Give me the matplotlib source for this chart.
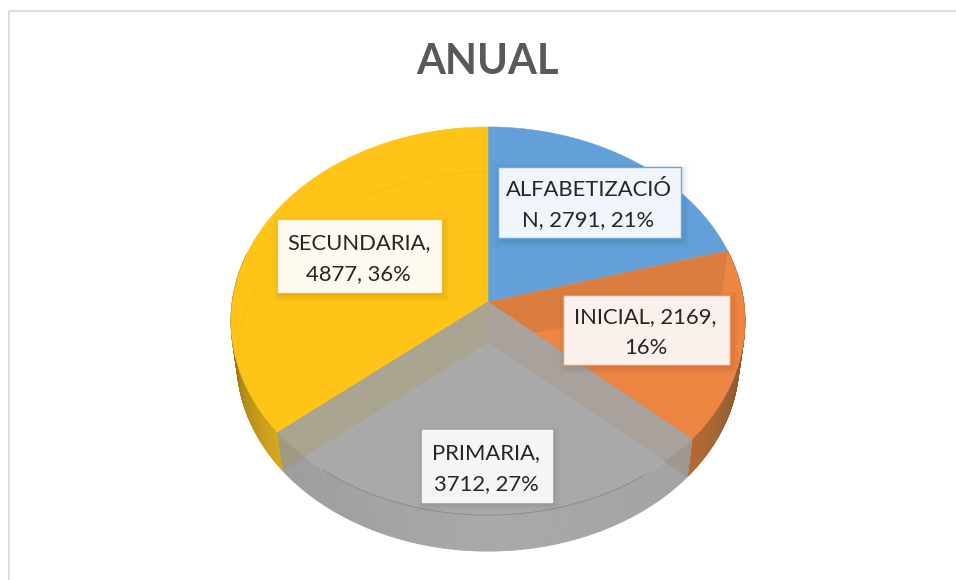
import numpy as np
import matplotlib
matplotlib.use('Agg')
import matplotlib.pyplot as plt
from matplotlib.colors import to_rgb
from matplotlib.patches import Polygon, Rectangle

# Values of the chart
names = ['ALFABETIZACIÓN', 'INICIAL', 'PRIMARIA', 'SECUNDARIA']
values = [2791, 2169, 3712, 4877]
title = 'ANUAL'

face_colors = ['#639fd8', '#ed8543', '#a9a9a9', '#fec417']
box_fill = ['#eff5fb', '#fbf1ec', '#f5f5f5', '#fffaef']
box_edge = ['#6ea6da', '#ee9258', '#f5f5f5', '#fff5d8']
# label box: left, right, top, bottom in pixels, and where the text breaks
boxes = [(498, 681, 167, 238), (563, 730, 295, 365), (422, 552, 430, 502), (278, 441, 220, 292)]
line_breaks = ['ALFABETIZACIÓ\nN, {v}, {p}%', 'INICIAL, {v},\n{p}%', 'PRIMARIA,\n{v}, {p}%', 'SECUNDARIA,\n{v}, {p}%']

# Perspective of the disc in pixels
cx = 488
top_y = 302
low_y = 343
low_scale = 0.977
rx = 255.8
ry = 192.2
persp = 0.098


def rim(theta, y0=top_y, scale=1.0):
    t = np.radians(theta)
    u, v = np.sin(t), np.cos(t)
    w = 1 + persp * v
    return np.column_stack([cx + scale * rx * u / w, y0 - scale * ry * v / w])


def sector(a, b, y0=top_y, scale=1.0):
    pts = rim(np.linspace(a, b, 120), y0, scale)
    return np.vstack([[cx, y0], pts])


fig = plt.figure(figsize=(9.56, 5.8), dpi=100)
ax = fig.add_axes([0, 0, 1, 1])
ax.set_xlim(0, 956)
ax.set_ylim(580, 0)
ax.axis('off')

# frame of the chart area
ax.plot([956, 9, 9], [11, 11, 580], color='#d9d9d9', lw=1.2)

ax.text(487, 62, title, ha='center', va='center', fontsize=30, fontweight='bold',
        family='Lato', color='#595959')

angles = np.concatenate([[0], np.cumsum(values)]) / sum(values) * 360
total = sum(values)
clip_shape = Polygon(rim(np.linspace(0, 360, 400)), transform=ax.transData)


def wall_strip(a, b, stops_t, stops_c):
    ts = np.linspace(a, b, 90)
    cols = np.array([to_rgb(c) for c in stops_c])
    for t0, t1 in zip(ts[:-1], ts[1:]):
        tm = (t0 + t1) / 2
        col = [np.interp(tm, stops_t, cols[:, i]) for i in range(3)]
        up = rim(np.array([t0, t1]))
        lo = rim(np.array([t1, t0]), low_y, low_scale)
        ax.add_patch(Polygon(np.vstack([up, lo]), fc=col, ec=col, lw=0.5, zorder=1))


# outer walls seen from the front
wall_strip(angles[1], angles[2], [85, 105, angles[2]], ['#5e4030', '#8a5a35', '#b5692f'])
wall_strip(angles[2], angles[3], [angles[2], 180, angles[3]], ['#a2a2a2', '#a9a9a9', '#9c9c9c'])
wall_strip(angles[3], 285, [angles[3], 255, 285], ['#d8a71a', '#a98518', '#54461a'])

# top faces, the grey slice is open
for i in [0, 1, 3]:
    ax.add_patch(Polygon(sector(angles[i], angles[i + 1]), fc=face_colors[i], ec=face_colors[i], lw=0.4, zorder=2))

# inner wall seen through the orange slice
p_up = rim(np.array([angles[1]]))[0]
p_lo = rim(np.array([angles[1]]), low_y, low_scale)[0]
inner = Polygon([[cx, top_y], p_up, p_lo, [cx, low_y]], fc='#dc7d40', ec='none', zorder=3)
ax.add_patch(inner)
inner.set_clip_path(Polygon(sector(angles[1], angles[2]), transform=ax.transData))

# faint rim of the lower disc through yellow and blue
for i, c in [(3, '#f8be12'), (0, '#69a3da')]:
    arc = rim(np.linspace(angles[i], angles[i + 1], 120), low_y, low_scale)
    line, = ax.plot(arc[:, 0], arc[:, 1], color=c, lw=0.7, zorder=3)
    line.set_clip_path(Polygon(sector(angles[i], angles[i + 1]), transform=ax.transData))

# walls and floor of the open grey slice
walls = [(angles[3], '#a09a84', '#aaa590'), (angles[2], '#9f9892', '#a9a29c')]
for ang, dark, light in walls:
    up = rim(np.array([ang]))[0]
    lo = rim(np.array([ang]), low_y, low_scale)[0]
    quad = [[cx, top_y], up, lo, [cx, low_y]]
    ax.add_patch(Polygon(quad, fc=dark, ec=dark, lw=0.3, zorder=4))
    q2 = Polygon(quad, fc=light, ec=light, lw=0.3, zorder=4.1)
    ax.add_patch(q2)
    q2.set_clip_path(clip_shape)

floor = Polygon(sector(angles[2], angles[3], low_y, low_scale), fc=face_colors[2], ec=face_colors[2], lw=0.3, zorder=4.2)
ax.add_patch(floor)
floor.set_clip_path(clip_shape)

front = rim(np.linspace(angles[2] + 14, angles[3] - 14, 120))
ax.plot(front[:, 0], front[:, 1], color='#8c8c8c', lw=0.7, zorder=4.3)

# data labels
for i, (l, r, t, b) in enumerate(boxes):
    for g in range(7):
        ax.add_patch(Rectangle((l - g + 2, t - g + 3), r - l + 2 * g, b - t + 2 * g, fc='black', ec='none',
                               alpha=0.012, zorder=5))
    ax.add_patch(Rectangle((l, t), r - l, b - t, fc=box_fill[i], ec=box_edge[i], lw=1.0, zorder=6))
    pct = round(values[i] / total * 100)
    ax.text((l + r) / 2 - 1, (t + b) / 2 + 2.5, line_breaks[i].format(v=values[i], p=pct), ha='center', va='center',
            fontsize=15.8, family='Lato', color='#262626', linespacing=1.68, zorder=7)

fig.savefig('out.png', dpi=100)
